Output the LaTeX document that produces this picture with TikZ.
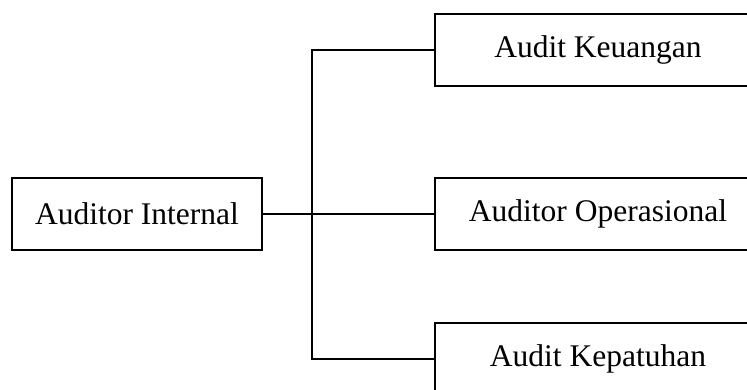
\documentclass[tikz,border=0pt]{standalone}
\usepackage{fontspec}
\setmainfont{Liberation Serif}
\begin{document}
\begin{tikzpicture}[
        x=1pt, y=1pt,
        kotak/.style={draw, line width=1.3pt, minimum height=72pt,
                      inner sep=0pt, font=\fontsize{31.5}{36}\selectfont},
        garis/.style={line width=1.2pt},
    ]
        \useasboundingbox (0,0) rectangle (747,389);
        \clip (0,0) rectangle (747,389);

        % Auditor internal
        \node[kotak, minimum width=250pt] (internal) at (137, 175) {Auditor Internal};

        % Jenis audit
        \node[kotak, minimum width=326pt] (keuangan) at (598, 339) {Audit Keuangan};
        \node[kotak, minimum width=326pt] (operasional) at (598, 175) {Auditor Operasional};
        \node[kotak, minimum width=326pt] (kepatuhan) at (598, 30) {Audit Kepatuhan};

        \coordinate (cabang) at (312, 175);

        \draw[garis] (internal.east) -- (operasional.west);
        \draw[garis] (keuangan.west) -| (cabang) |- (kepatuhan.west);
    \end{tikzpicture}
\end{document}
